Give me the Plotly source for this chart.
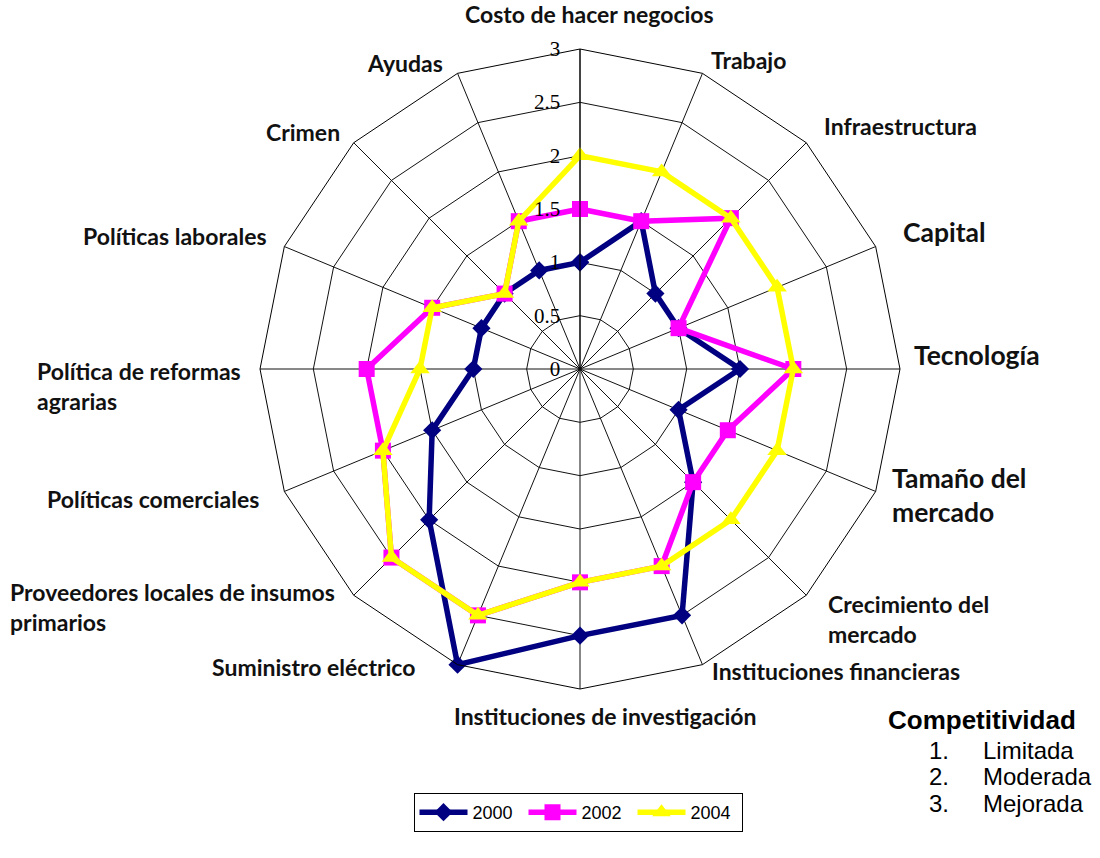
import plotly.graph_objects as go

categories = ["Costo de hacer negocios", "Trabajo", "Infraestructura", "Capital",
              "Tecnología", "Tamaño del mercado", "Crecimiento del mercado",
              "Instituciones financieras", "Instituciones de investigación",
              "Suministro eléctrico", "Proveedores locales de insumos primarios",
              "Políticas comerciales", "Política de reformas agrarias",
              "Políticas laborales", "Crimen", "Ayudas"]
v2000 = [1.0, 1.5, 1.0, 1.0, 1.5, 1.0, 1.5, 2.5, 2.5, 3.0, 2.0, 1.5, 1.0, 1.0, 1.0, 1.0]
v2002 = [1.5, 1.5, 2.0, 1.0, 2.0, 1.5, 1.5, 2.0, 2.0, 2.5, 2.5, 2.0, 2.0, 1.5, 1.0, 1.5]
v2004 = [2.0, 2.0, 2.0, 2.0, 2.0, 2.0, 2.0, 2.0, 2.0, 2.5, 2.5, 2.0, 1.5, 1.5, 1.0, 1.5]
series_names = ["2000", "2002", "2004"]
radial_ticks = [0, 0.5, 1, 1.5, 2, 2.5, 3]
radial_ticktext = ["0", "0.5", "1", "1.5", "2", "2.5", "3"]
legend_title = "Competitividad"
legend_levels = ["Limitada", "Moderada", "Mejorada"]

W, H = 1100, 858
cx, cy, R = 580, 369, 320

fig = go.Figure()
styles = [
    ("#000080", "diamond", 14),
    ("#FF00FF", "square", 16),
    ("#FFFF00", "triangle-up", 17),
]
for name, vals, (col, sym, ms) in zip(series_names, [v2000, v2002, v2004], styles):
    fig.add_trace(go.Scatterpolar(
        r=vals + vals[:1], theta=categories + categories[:1],
        mode="lines+markers", name=name,
        line=dict(color=col, width=5.5),
        marker=dict(color=col, symbol=sym, size=ms),
    ))

def P(x, y):
    return x / W, 1 - y / H

LF = "Lato"
labels = [
    ("Costo de hacer negocios", 589, 14, "center", 23),
    ("Trabajo", 748, 60, "center", 23),
    ("Infraestructura", 900, 126, "center", 23),
    ("Capital", 944, 232, "center", 26.5),
    ("Tecnología", 977, 355, "center", 26.5),
    ("Tamaño del<br>mercado", 890, 495, "left", 26.5),
    ("Crecimiento del<br>mercado", 826, 619, "left", 23),
    ("Instituciones financieras", 836, 671, "center", 23),
    ("Instituciones de investigación", 605, 716, "center", 23),
    ("Suministro eléctrico", 313, 667, "center", 23),
    ("Proveedores locales de insumos<br>primarios", 8, 607, "left", 23),
    ("Políticas comerciales", 153, 499, "center", 23),
    ("Política de reformas<br>agrarias", 35, 386, "left", 23),
    ("Políticas laborales", 175, 236, "center", 23),
    ("Crimen", 303, 132, "center", 23),
    ("Ayudas", 405, 63, "center", 23),
]
annotations = []
for txt, x, y, xa, fs in labels:
    px, py = P(x, y)
    annotations.append(dict(
        text="<b>" + txt + "</b>", x=px, y=py, xref="paper", yref="paper",
        xanchor=xa, yanchor="middle", align=xa, showarrow=False,
        font=dict(family=LF, size=fs, color="#111111"),
    ))

px, py = P(886, 720)
annotations.append(dict(text="<b>" + legend_title + "</b>", x=px, y=py, xref="paper", yref="paper",
                        xanchor="left", yanchor="middle", showarrow=False,
                        font=dict(family="Liberation Sans", size=26, color="black")))
for i, lev in enumerate(legend_levels):
    y = 750 + i * 26.5
    px, py = P(951, y)
    annotations.append(dict(text=f"{i+1}.", x=px, y=py, xref="paper", yref="paper",
                            xanchor="right", yanchor="middle", showarrow=False,
                            font=dict(family="Liberation Sans", size=24, color="black")))
    px, py = P(981, y)
    annotations.append(dict(text=lev, x=px, y=py, xref="paper", yref="paper",
                            xanchor="left", yanchor="middle", showarrow=False,
                            font=dict(family="Liberation Sans", size=24, color="black")))

fig.update_layout(
    width=W, height=H,
    margin=dict(l=0, r=0, t=0, b=0),
    paper_bgcolor="white",
    showlegend=True,
    legend=dict(orientation="h", x=578 / W, xanchor="center", y=(H - 832) / H, yanchor="bottom",
                bordercolor="black", borderwidth=1, bgcolor="white",
                font=dict(family="Liberation Sans", size=18, color="black"),
                itemwidth=48, entrywidth=46, tracegroupgap=0),
    polar=dict(
        domain=dict(x=[(cx - R) / W, (cx + R) / W], y=[(H - cy - R) / H, (H - cy + R) / H]),
        bgcolor="white",
        gridshape="linear",
        angularaxis=dict(direction="clockwise", rotation=90, type="category",
                         showticklabels=False, ticks="",
                         showline=True, linecolor="black", linewidth=1,
                         gridcolor="#111111", gridwidth=1),
        radialaxis=dict(range=[0, 3], tickvals=radial_ticks, ticktext=radial_ticktext,
                        angle=90, side="counterclockwise", tickangle=90,
                        ticks="outside", ticklen=12, tickcolor="rgba(0,0,0,0)",
                        showline=True, linecolor="black", linewidth=1,
                        gridcolor="#111111", gridwidth=1,
                        tickfont=dict(family="Liberation Serif", size=21, color="black")),
    ),
    annotations=annotations,
)
fig.write_html("out.html", config={"displayModeBar": False},
               post_script="document.body.style.margin='0';document.body.style.padding='0';")
